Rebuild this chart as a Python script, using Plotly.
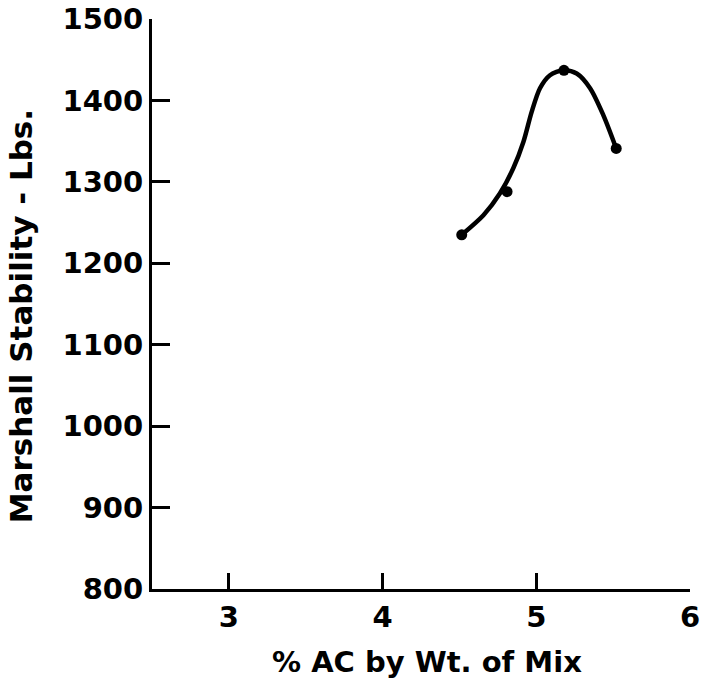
import plotly.graph_objects as go

# measured points
ac_pct = [4.515, 4.81, 5.18, 5.52]
stability = [1235, 1288, 1437, 1341]

# hand-drawn fitted curve
curve_x = [4.515, 4.656, 4.764, 4.851, 4.916, 4.970, 5.024, 5.089, 5.176, 5.263, 5.350, 5.436, 5.52]
curve_y = [1235, 1259, 1286, 1317, 1349, 1386, 1415, 1431, 1437, 1433, 1415, 1382, 1341]

x_ticks = [3, 4, 5, 6]
y_ticks = [800, 900, 1000, 1100, 1200, 1300, 1400, 1500]

x_title = "% AC by Wt. of Mix"
y_title = "Marshall Stability - Lbs."

font_family = "DejaVu Sans, Arial, sans-serif"

fig = go.Figure()
fig.add_trace(go.Scatter(x=curve_x, y=curve_y, mode="lines",
                         line=dict(color="black", width=4.5, shape="spline", smoothing=0.8),
                         showlegend=False, hoverinfo="skip"))
fig.add_trace(go.Scatter(x=ac_pct, y=stability, mode="markers",
                         marker=dict(color="black", size=11),
                         showlegend=False))

fig.update_layout(
    width=704, height=684,
    margin=dict(l=152, r=14, t=19, b=95),
    paper_bgcolor="white", plot_bgcolor="white",
    font=dict(family=font_family, color="black"),
    xaxis=dict(range=[2.5, 6.0], tickvals=x_ticks, ticks="inside", ticklen=16,
               tickwidth=3, tickcolor="black", showline=True, linecolor="black",
               linewidth=3, showgrid=False, zeroline=False, automargin=False,
               tickfont=dict(size=29, family=font_family, weight="bold")),
    yaxis=dict(range=[800, 1500], tickvals=y_ticks, ticks="inside", ticklen=18,
               tickwidth=3, tickcolor="black", showline=True, linecolor="black",
               linewidth=3, showgrid=False, zeroline=False, automargin=False,
               tickfont=dict(size=29, family=font_family, weight="bold")),
    annotations=[
        dict(text=x_title, xref="paper", yref="paper", x=0.512, y=-0.128,
             xanchor="center", yanchor="middle", showarrow=False,
             font=dict(size=29, family=font_family, weight="bold")),
        dict(text=y_title, xref="paper", yref="paper", x=-0.244, y=0.478,
             xanchor="center", yanchor="middle", showarrow=False, textangle=-90,
             font=dict(size=31, family=font_family, weight="bold")),
    ],
)

fig.write_html("out.html", config={"displayModeBar": False},
               post_script="document.body.style.margin='0px';document.body.style.overflow='hidden';")
